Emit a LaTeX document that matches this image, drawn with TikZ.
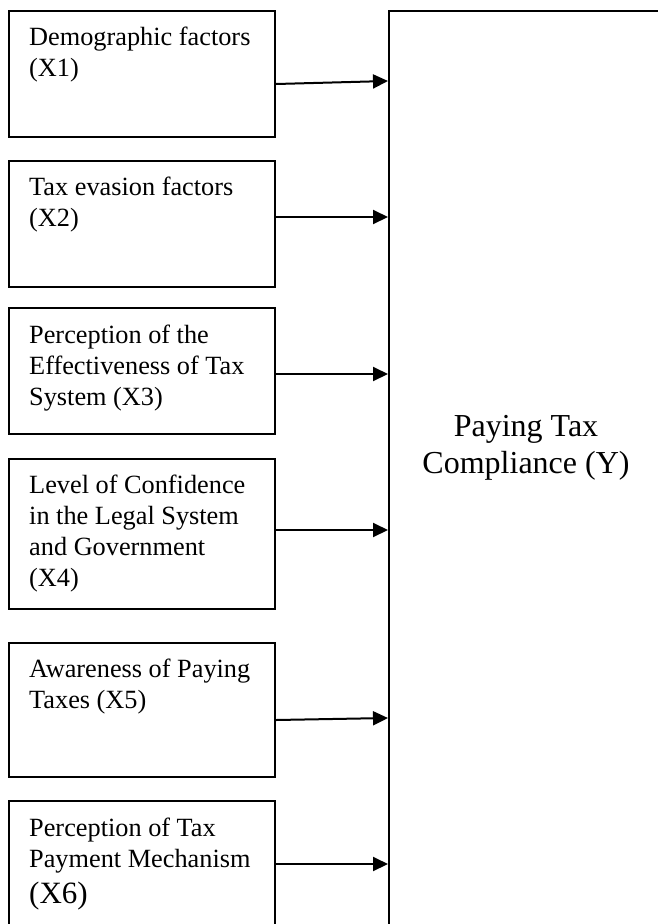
\documentclass[tikz,border=0pt]{standalone}
\usepackage{fontspec}
\setmainfont{Liberation Serif}
\usetikzlibrary{arrows.meta}
\begin{document}
\begin{tikzpicture}[x=1pt,y=-1pt,
  factorbox/.style={draw=black,line width=2.1pt,rectangle,anchor=north west,minimum width=266pt,inner sep=0pt},
  factortext/.style={anchor=north west,inner sep=0pt,align=left,font=\fontsize{26.3}{31}\selectfont},
  arr/.style={line width=2pt,-{Triangle[length=15pt,width=14pt]}}]
\useasboundingbox (0,0) rectangle (658,924);
\clip (0,0) rectangle (658,924);
\fill[white] (0,0) rectangle (658,924);
% outcome box
\node[draw=black,line width=2.1pt,rectangle,anchor=north west,minimum width=290pt,minimum height=940pt,inner sep=0pt] (Y) at (388,10) {};
\node[anchor=north,inner sep=0pt,align=center,font=\fontsize{32}{37}\selectfont] (ytext) at (526,410.1) {\strut Paying Tax\\Compliance (Y)};
% factor boxes
\node[factorbox,minimum height=126pt] (b1) at (8,10) {};
\node[factorbox,minimum height=126pt] (b2) at (8,160) {};
\node[factorbox,minimum height=126pt] (b3) at (8,307) {};
\node[factorbox,minimum height=150pt] (b4) at (8,458) {};
\node[factorbox,minimum height=134pt] (b5) at (8,642) {};
\node[factorbox,minimum height=150pt] (b6) at (8,800) {};
% texts
\node[factortext] (t1) at (29,23.3) {\strut Demographic factors\\(X1)};
\node[factortext] (t2) at (29,173.3) {\strut Tax evasion factors\\(X2)};
\node[factortext] (t3) at (29,321.3) {\strut Perception of the\\Effectiveness of Tax\\System (X3)};
\node[factortext] (t4) at (29,471.3) {\strut Level of Confidence\\in the Legal System\\and Government\\(X4)};
\node[factortext] (t5) at (29,655.3) {\strut Awareness of Paying\\Taxes (X5)};
\node[factortext] (t6) at (29,814.3) {\strut Perception of Tax\\Payment Mechanism\\[5pt]{\fontsize{31}{36}\selectfont (X6)}};
% arrows
\draw[arr] (b1.east |- 0,84) -- (Y.west |- 0,81);
\draw[arr] (b2.east |- 0,217) -- (Y.west |- 0,217);
\draw[arr] (b3.east |- 0,374) -- (Y.west |- 0,374);
\draw[arr] (b4.east |- 0,530) -- (Y.west |- 0,530);
\draw[arr] (b5.east |- 0,720) -- (Y.west |- 0,718);
\draw[arr] (b6.east |- 0,864) -- (Y.west |- 0,864);
\end{tikzpicture}
\end{document}
